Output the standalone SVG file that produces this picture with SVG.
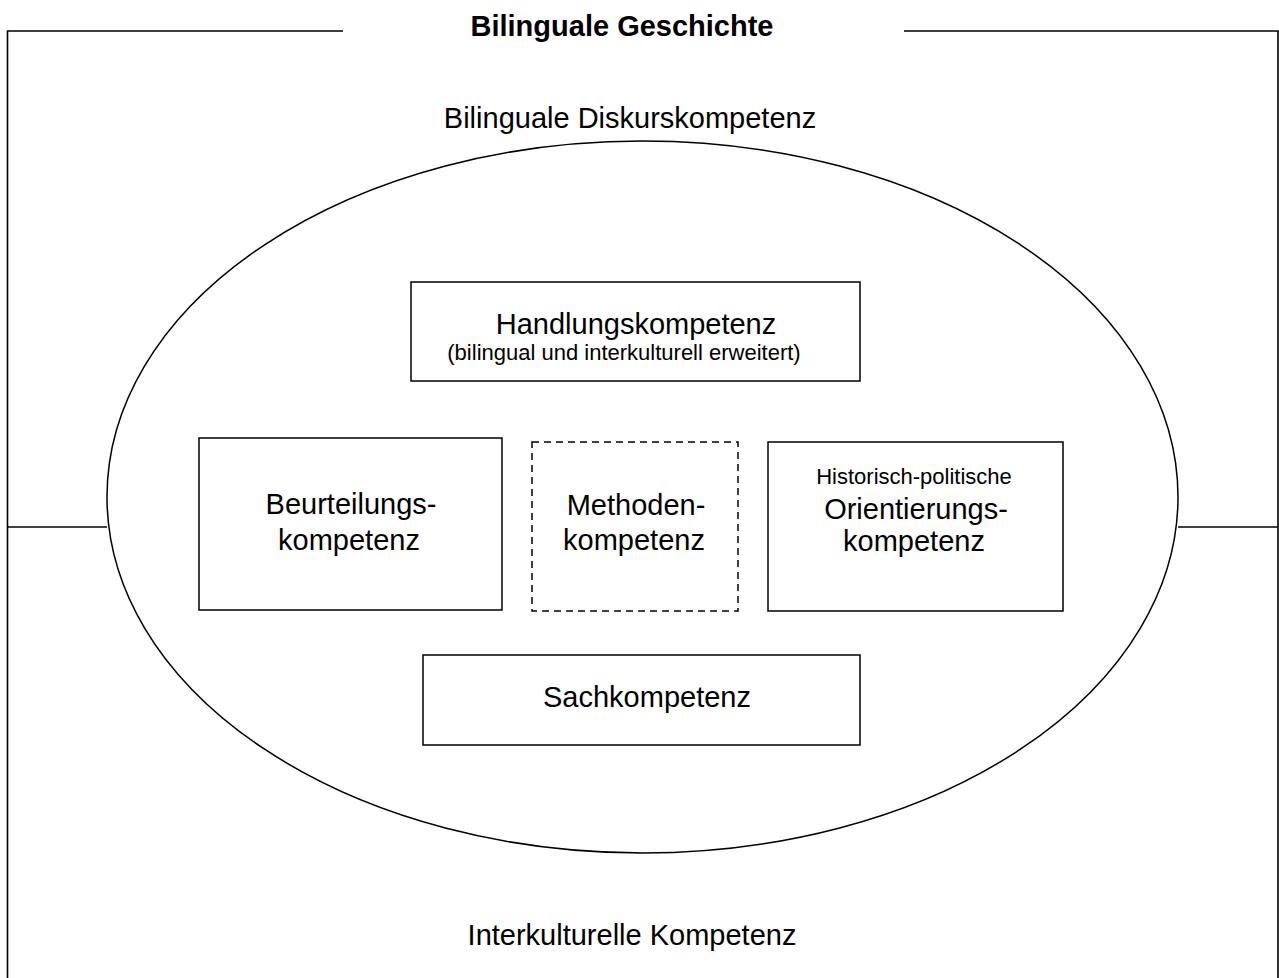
<svg xmlns="http://www.w3.org/2000/svg" width="1279" height="978" viewBox="0 0 1279 978">
<style>
text{font-family:"Liberation Sans",Arial,sans-serif;fill:#000;text-anchor:middle}
.big{font-size:29px}
.small{font-size:22px}
.title{font-size:29px;font-weight:bold}
.box{fill:#fff;stroke:#000;stroke-width:1.5}
.dash{fill:#fff;stroke:#000;stroke-width:1.5;stroke-dasharray:7,5}
.frame{fill:none;stroke:#000;stroke-width:1.6}
</style>
<rect width="1279" height="978" fill="#fff"/>
<g id="frame">
<path class="frame" d="M343,31 H7.5 V990 M904,31 H1278 V990"/>
<text class="title" x="622" y="36">Bilinguale Geschichte</text>
<text class="big" x="630" y="128">Bilinguale Diskurskompetenz</text>
<text class="big" x="632" y="945">Interkulturelle Kompetenz</text>
</g>
<g id="connectors">
<line class="frame" x1="7" y1="527" x2="107" y2="527"/>
<line class="frame" x1="1178" y1="527" x2="1278" y2="527"/>
</g>
<g id="ellipse">
<ellipse cx="642.5" cy="497" rx="535.5" ry="356" fill="none" stroke="#000" stroke-width="1.5"/>
</g>
<g id="handlung">
<rect class="box" x="411" y="282" width="449" height="99"/>
<text class="big" x="636" y="334">Handlungskompetenz</text>
<text class="small" x="624" y="360">(bilingual und interkulturell erweitert)</text>
</g>
<g id="beurteilung">
<rect class="box" x="199" y="438" width="303" height="172"/>
<text class="big" x="351" y="514">Beurteilungs-</text>
<text class="big" x="349" y="550">kompetenz</text>
</g>
<g id="methoden">
<rect class="dash" x="532" y="442" width="206" height="169"/>
<text class="big" x="636" y="515">Methoden-</text>
<text class="big" x="634" y="550">kompetenz</text>
</g>
<g id="orientierung">
<rect class="box" x="768" y="442" width="295" height="169"/>
<text class="small" x="914" y="484">Historisch-politische</text>
<text class="big" x="916" y="519">Orientierungs-</text>
<text class="big" x="914" y="551">kompetenz</text>
</g>
<g id="sach">
<rect class="box" x="423" y="655" width="437" height="90"/>
<text class="big" x="647" y="707">Sachkompetenz</text>
</g>
</svg>
